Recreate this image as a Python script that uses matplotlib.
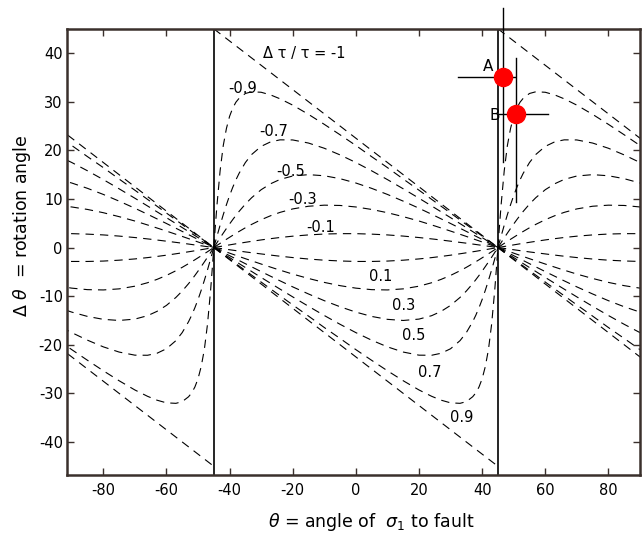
import matplotlib
matplotlib.use("Agg")
import matplotlib.pyplot as plt

plt.rcParams['font.family'] = ['DejaVu Sans']
plt.rcParams['mathtext.fontset'] = 'dejavusans'
plt.rcParams['axes.unicode_minus'] = False

# ---- data ----
# central period (-45..45); the same family repeats every 90 degrees
x_neg = [-45, -44.5, -44, -43, -42, -41, -40, -39, -38, -37, -35, -33, -30, -27, -24,
         -20, -15, -10, -5, 0, 5, 10, 15, 20, 25, 30, 35, 40, 45]
x_pos = [-45, -40, -35, -30, -25, -20, -15, -10, -5, 0, 5, 10, 15, 20, 24, 27, 30,
         33, 35, 37, 38, 39, 40, 41, 42, 43, 44, 44.5, 45]
x_line = [-45, 45]

y_m10 = [45, 0]
y_m09 = [0, 4.46, 8.7, 15.8, 21.0, 24.5, 27.0, 28.7, 29.9, 30.7, 31.7, 32.05, 31.95, 31.4,
         30.6, 29.3, 27.4, 25.35, 23.2, 21.0, 18.7, 16.45, 14.1, 11.8, 9.45, 7.1, 4.73, 2.37, 0]
y_m07 = [0, 1.17, 2.32, 4.6, 6.77, 8.81, 10.7, 12.39, 13.92, 15.26, 17.49, 19.15, 20.82, 21.75,
         22.16, 22.14, 21.5, 20.43, 19.06, 17.5, 15.79, 13.98, 12.09, 10.15, 8.16, 6.15, 4.11, 2.06, 0]
y_m05 = [0, 0.5, 1.0, 2.0, 2.97, 3.92, 4.85, 5.75, 6.61, 7.43, 8.94, 10.26, 11.9, 13.13, 14.02,
         14.72, 15.0, 14.77, 14.17, 13.28, 12.18, 10.93, 9.55, 8.09, 6.54, 4.95, 3.32, 1.67, 0]
y_m03 = [0, 0.21, 0.43, 0.86, 1.28, 1.7, 2.11, 2.52, 2.92, 3.31, 4.07, 4.77, 5.73, 6.55, 7.24,
         7.95, 8.5, 8.72, 8.66, 8.35, 7.84, 7.17, 6.36, 5.46, 4.45, 3.39, 2.29, 1.15, 0]
y_m01 = [0, 0.06, 0.11, 0.22, 0.33, 0.44, 0.55, 0.66, 0.77, 0.87, 1.08, 1.28, 1.57, 1.83, 2.07,
         2.34, 2.6, 2.78, 2.86, 2.86, 2.76, 2.6, 2.36, 2.06, 1.71, 1.31, 0.9, 0.45, 0]
y_p01 = [0, -0.45, -0.9, -1.31, -1.71, -2.06, -2.36, -2.6, -2.76, -2.86, -2.86, -2.78, -2.6,
         -2.34, -2.07, -1.83, -1.57, -1.28, -1.08, -0.87, -0.77, -0.66, -0.55, -0.44, -0.33,
         -0.22, -0.11, -0.06, 0]
y_p03 = [0, -1.15, -2.29, -3.39, -4.45, -5.46, -6.36, -7.17, -7.84, -8.35, -8.66, -8.72, -8.5,
         -7.95, -7.24, -6.55, -5.73, -4.77, -4.07, -3.31, -2.92, -2.52, -2.11, -1.7, -1.28,
         -0.86, -0.43, -0.21, 0]
y_p05 = [0, -1.67, -3.32, -4.95, -6.54, -8.09, -9.55, -10.93, -12.18, -13.28, -14.17, -14.77,
         -15.0, -14.72, -14.02, -13.13, -11.9, -10.26, -8.94, -7.43, -6.61, -5.75, -4.85,
         -3.92, -2.97, -2.0, -1.0, -0.5, 0]
y_p07 = [0, -2.06, -4.11, -6.15, -8.16, -10.15, -12.09, -13.98, -15.79, -17.5, -19.06, -20.43,
         -21.5, -22.14, -22.16, -21.75, -20.82, -19.15, -17.49, -15.26, -13.92, -12.39, -10.7,
         -8.81, -6.77, -4.6, -2.32, -1.17, 0]
y_p09 = [0, -2.37, -4.73, -7.1, -9.45, -11.8, -14.1, -16.45, -18.7, -21.0, -23.2, -25.35,
         -27.4, -29.3, -30.6, -31.4, -31.95, -32.05, -31.7, -30.7, -29.9, -28.7, -27.0,
         -24.5, -21.0, -15.8, -8.7, -4.46, 0]
y_p10 = [0, -45]

curves = [(x_line, y_m10), (x_neg, y_m09), (x_neg, y_m07), (x_neg, y_m05), (x_neg, y_m03),
          (x_neg, y_m01), (x_pos, y_p01), (x_pos, y_p03), (x_pos, y_p05), (x_pos, y_p07),
          (x_pos, y_p09), (x_line, y_p10)]
period_shifts = [-90, 0, 90]

curve_labels = ['Δ τ / τ = -1', '-0.9', '-0.7', '-0.5', '-0.3', '-0.1',
                '0.1', '0.3', '0.5', '0.7', '0.9']
label_x = [-29.5, -36.0, -25.9, -20.6, -16.9, -11.1, 8.0, 15.2, 18.4, 23.3, 33.4]
label_y = [40.0, 32.8, 23.9, 15.6, 9.9, 4.1, -6.0, -11.9, -18.0, -25.8, -34.9]

# measured points with error bars
pt_names = ['A', 'B']
pt_x = [46.6, 50.6]
pt_y = [35.0, 27.5]
pt_xlo = [32.3, 45.4]
pt_xhi = [50.5, 61.0]
pt_ylo = [17.6, 9.4]
pt_yhi = [49.2, 38.9]
pt_lab_x = [42.0, 43.9]
pt_lab_y = [37.2, 27.2]

fault_limits = [-45, 45]

# ---- figure ----
fig = plt.figure(figsize=(6.43, 5.35), dpi=100)
ax = fig.add_axes([0.1042, 0.1121, 0.8911, 0.8331])
ax.set_xlim(-91.5, 90)
ax.set_ylim(-46.8, 44.9)

dash = (0, (7.5, 5.5))
for xs, ys in curves:
    for s in period_shifts:
        ax.plot([x + s for x in xs], ys, color='black', lw=0.8, linestyle=dash)

for xv in fault_limits:
    ax.axvline(xv, color='black', lw=1.2)

for i in range(len(curve_labels)):
    ha = 'left' if i == 0 else 'center'
    ax.text(label_x[i], label_y[i], curve_labels[i], ha=ha, va='center', fontsize=10.5)

for i in range(len(pt_names)):
    ax.plot([pt_xlo[i], pt_xhi[i]], [pt_y[i], pt_y[i]], color='black', lw=1.0,
            clip_on=False, zorder=4)
    ax.plot([pt_x[i], pt_x[i]], [pt_ylo[i], pt_yhi[i]], color='black', lw=1.0,
            clip_on=False, zorder=4)
    ax.plot(pt_x[i], pt_y[i], 'o', color='#ff0000', markersize=13, zorder=5, clip_on=False)
    ax.text(pt_lab_x[i], pt_lab_y[i], pt_names[i], ha='center', va='center', fontsize=11)

ax.set_xticks([-80, -60, -40, -20, 0, 20, 40, 60, 80])
ax.set_yticks([-40, -30, -20, -10, 0, 10, 20, 30, 40])
ax.tick_params(axis='both', direction='in', length=5, width=1.0, labelsize=10.5,
               top=True, right=True, color='#3a302c')
ax.tick_params(axis='x', pad=6)
ax.tick_params(axis='y', pad=3)
for sp in ax.spines.values():
    sp.set_color('#3a302c')
    sp.set_linewidth(1.8)

ax.set_xlabel(r'$\theta$ = angle of  $\sigma_1$ to fault', fontsize=12.5)
ax.set_ylabel(r'Δ $\theta$  = rotation angle', fontsize=12.5)
ax.xaxis.set_label_coords(0.531, -0.08)
ax.yaxis.set_label_coords(-0.059, 0.559)

fig.savefig('out.png', dpi=100)
